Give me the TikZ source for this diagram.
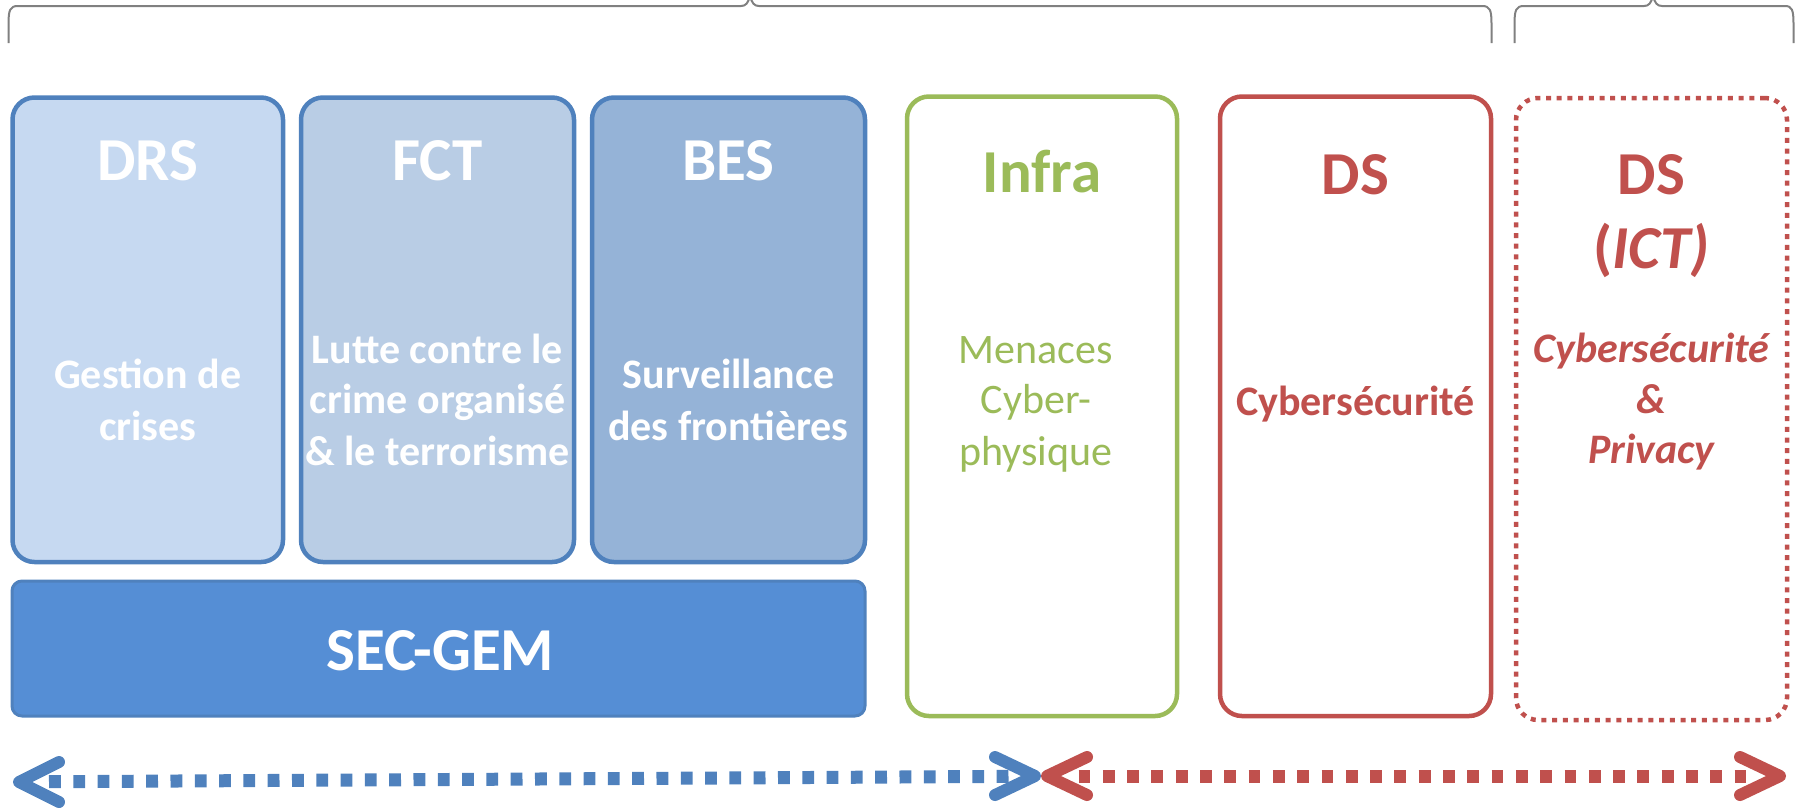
\documentclass[tikz,border=0pt]{standalone}
\usepackage{fontspec}
\setmainfont{Carlito}
\definecolor{sblue}{HTML}{4F81BD}
\definecolor{drsfill}{HTML}{C6D9F1}
\definecolor{fctfill}{HTML}{B9CDE5}
\definecolor{besfill}{HTML}{95B3D7}
\definecolor{secfill}{HTML}{558ED5}
\definecolor{sgreen}{HTML}{9BBB59}
\definecolor{sred}{HTML}{C0504D}
\definecolor{braceGray}{HTML}{808080}
\begin{document}
\begin{tikzpicture}[x=1pt,y=-1pt,
  box/.style={draw, line width=4.5pt, rounded corners=22pt, inner sep=0pt, outer sep=0pt},
  titletxt/.style={anchor=base, inner sep=0pt, font=\fontsize{61}{73}\selectfont\bfseries},
  bodytxt/.style={anchor=base, inner sep=0pt, font=\fontsize{42}{51}\selectfont\bfseries},
  regtxt/.style={anchor=base, inner sep=0pt, font=\fontsize{42}{51}\selectfont},
  itxt/.style={anchor=base, inner sep=0pt, font=\fontsize{42}{51}\selectfont\bfseries\itshape},
  bracepath/.style={draw=braceGray, line width=2pt},
  dashline/.style={line width=13pt, dash pattern=on 11.8pt off 12.5pt},
  chev/.style={line width=12pt, line cap=round, line join=round},
]
\useasboundingbox (0,0) rectangle (1803,807);
\clip (0,0) rectangle (1803,807);

% braces
\draw[bracepath] (8.5,43) -- (8.5,24) .. controls (8.5,10) and (10,6) .. (18,6) -- (741,6) .. controls (746,6) and (748,3) .. (750,-4);
\draw[bracepath] (750,-4) .. controls (752,3) and (754,6) .. (759,6) -- (1482,6) .. controls (1490,6) and (1491.5,10) .. (1491.5,24) -- (1491.5,43);
\draw[bracepath] (1514.5,43) -- (1514.5,24) .. controls (1514.5,10) and (1516,6) .. (1524,6) -- (1644,6) .. controls (1649,6) and (1651,3) .. (1653,-4);
\draw[bracepath] (1653,-4) .. controls (1655,3) and (1657,6) .. (1662,6) -- (1785,6) .. controls (1792,6) and (1793.5,10) .. (1793.5,24) -- (1793.5,43);

% boxes
\node[box, draw=sblue, fill=drsfill, minimum width=270.5pt, minimum height=464.5pt] (drs) at (147.75,329.75) {};
\node[box, draw=sblue, fill=fctfill, minimum width=273pt, minimum height=464.5pt] (fct) at (437.5,329.75) {};
\node[box, draw=sblue, fill=besfill, minimum width=273pt, minimum height=464.5pt] (bes) at (728.5,329.75) {};
\node[box, draw=sblue, fill=secfill, line width=3pt, rounded corners=10pt, minimum width=853pt, minimum height=135pt] (sec) at (438.5,648.5) {};
\node[box, draw=sgreen, fill=white, minimum width=270pt, minimum height=619.5pt] (infra) at (1042,406.25) {};
\node[box, draw=sred, fill=white, minimum width=271pt, minimum height=619.5pt] (ds) at (1355.5,406.25) {};
\node[box, draw=sred, fill=white, dash pattern=on 5pt off 5.7pt, minimum width=271pt, minimum height=622pt] (dsict) at (1651.5,409) {};

% titles
\node[titletxt, text=white] (tdrs) at (147.75,180) {DRS};
\node[titletxt, text=white] (tfct) at (437.5,180) {FCT};
\node[titletxt, text=white] (tbes) at (728.5,180) {BES};
\node[titletxt, text=sgreen] (tinfra) at (1042,192) {Infra};
\node[titletxt, text=sred] (tds) at (1355.5,194) {DS};
\node[titletxt, text=sred] (tdsb) at (1651.5,194) {DS};
\node[titletxt, text=sred] (tict) at (1651.5,268) {(\textit{ICT)}};
\node[titletxt, text=white] (tsec) at (440.5,670) {SEC-GEM};

% body texts
\node[bodytxt, text=white] (g1) at (147.75,388) {Gestion de};
\node[bodytxt, text=white] (g2) at (147.75,440) {crises};
\node[bodytxt, text=white] (f1) at (437.5,363) {Lutte contre le};
\node[bodytxt, text=white] (f2) at (437.5,413) {crime organisé};
\node[bodytxt, text=white] (f3) at (437.5,465) {\& le terrorisme};
\node[bodytxt, text=white] (b1) at (728.5,388) {Surveillance};
\node[bodytxt, text=white] (b2) at (728.5,440) {des frontières};
\node[regtxt, text=sgreen] (m1) at (1036,363) {Menaces};
\node[regtxt, text=sgreen] (m2) at (1036,413) {Cyber-};
\node[regtxt, text=sgreen] (m3) at (1036,465) {physique};
\node[bodytxt, text=sred] (c1) at (1355.5,415) {Cybersécurité};
\node[itxt, text=sred] (p1) at (1651.5,362) {Cybersécurité};
\node[itxt, text=sred] (p2) at (1651.5,413) {\&};
\node[itxt, text=sred] (p3) at (1651.5,463) {Privacy};

% arrows
\coordinate (bL) at (19,782);
\coordinate (bR) at (1035,776);
\coordinate (bS) at (49,781.7);
\coordinate (bE) at (1024,776.3);
\coordinate (rL) at (1047,776);
\coordinate (rR) at (1780,776);
\coordinate (rS) at (1078.5,776);
\coordinate (rE) at (1748,776);
\draw[dashline, sblue] (bS) -- (bE);
\draw[chev, sblue] (59,762) -- (bL) -- (59,802);
\draw[chev, sblue] (995,757) -- (bR) -- (995,795);
\draw[dashline, sred] (rS) -- (rE);
\draw[chev, sred] (1087,757) -- (rL) -- (1087,795);
\draw[chev, sred] (1740,757) -- (rR) -- (1740,795);
\end{tikzpicture}
\end{document}
